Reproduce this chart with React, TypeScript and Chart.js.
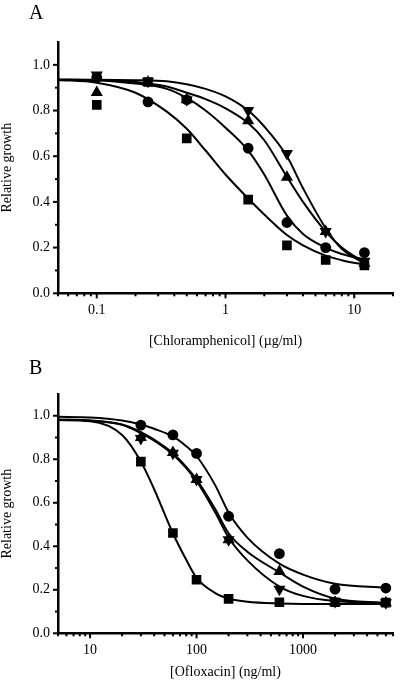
import React, { useEffect, useRef } from "react";
import { Chart, registerables } from "chart.js";

Chart.register(...registerables);

// ---------- Panel A: chloramphenicol ----------
const concA = [0.1, 0.25, 0.5, 1.5, 3, 6, 12];
const squareA = [0.825, 0.925, 0.678, 0.41, 0.21, 0.146, 0.122];
const circleA = [0.945, 0.838, 0.847, 0.635, 0.31, 0.2, 0.178];
const triangleA = [0.879, 0.925, 0.847, 0.755, 0.508, 0.27, 0.131];
const invTriangleA = [0.956, 0.928, 0.847, 0.8, 0.612, 0.27, 0.14];

const curveXA = [0.05, 0.1, 0.2, 0.35, 0.5, 0.7, 1, 1.5, 2, 3, 4, 6, 8, 12];
const squareCurveA = [0.934, 0.922, 0.878, 0.795, 0.72, 0.625, 0.52, 0.415, 0.345, 0.255, 0.21, 0.165, 0.145, 0.125];
const circleCurveA = [0.935, 0.933, 0.918, 0.895, 0.855, 0.8, 0.725, 0.625, 0.52, 0.34, 0.26, 0.2, 0.172, 0.148];
const triangleCurveA = [0.935, 0.934, 0.925, 0.905, 0.878, 0.85, 0.81, 0.745, 0.67, 0.51, 0.4, 0.27, 0.2, 0.135];
const invTriangleCurveA = [0.935, 0.935, 0.933, 0.928, 0.915, 0.895, 0.862, 0.8, 0.73, 0.6, 0.46, 0.285, 0.195, 0.13];

const xTicksA = [0.1, 1, 10];
const xRangeA = [0.05, 20];

// ---------- Panel B: ofloxacin ----------
const concB = [30, 60, 100, 200, 600, 2000, 6000];
const squareB = [0.789, 0.461, 0.246, 0.158, 0.143, 0.143, 0.141];
const circleB = [0.957, 0.912, 0.827, 0.538, 0.366, 0.203, 0.208];
const triangleB = [0.9, 0.831, 0.707, 0.43, 0.284, 0.143, 0.141];
const invTriangleB = [0.895, 0.828, 0.707, 0.43, 0.203, 0.146, 0.141];

const curveXB = [5, 10, 20, 30, 40, 60, 80, 100, 150, 200, 300, 600, 1000, 2000, 6000];
const squareCurveB = [0.98, 0.975, 0.912, 0.79, 0.662, 0.46, 0.338, 0.255, 0.185, 0.16, 0.145, 0.137, 0.135, 0.135, 0.135];
const circleCurveB = [0.995, 0.992, 0.978, 0.96, 0.94, 0.905, 0.86, 0.815, 0.68, 0.555, 0.44, 0.32, 0.27, 0.228, 0.21];
const triangleCurveB = [0.982, 0.978, 0.96, 0.925, 0.89, 0.828, 0.765, 0.708, 0.57, 0.46, 0.375, 0.28, 0.215, 0.16, 0.14];
const invTriangleCurveB = [0.982, 0.978, 0.958, 0.92, 0.885, 0.822, 0.76, 0.7, 0.555, 0.44, 0.335, 0.215, 0.172, 0.148, 0.14];

const xTicksB = [10, 100, 1000];
const xRangeB = [5, 7000];

// ---------- shared ----------
const yTicks = [0, 0.2, 0.4, 0.6, 0.8, 1.0];
const yMinorTicks = [0.1, 0.3, 0.5, 0.7, 0.9];
const yRange = [0, 1.1];

const SERIF = "'Liberation Serif', 'Times New Roman', Times, serif";

type Pt = { x: number; y: number };
const zip = (xs: number[], ys: number[]): Pt[] => xs.map((x, i) => ({ x, y: ys[i] }));

function logMinorTicks(min: number, max: number): number[] {
  const out: number[] = [];
  const k0 = Math.floor(Math.log10(min));
  const k1 = Math.ceil(Math.log10(max));
  for (let k = k0; k <= k1; k++) {
    for (let m = 2; m <= 9; m++) {
      const v = m * Math.pow(10, k);
      if (v >= min * 0.999 && v <= max * 1.001) out.push(v);
    }
  }
  return out;
}

const axisTicksPlugin = {
  id: "axisTicks",
  afterDraw(chart: any, _args: any, opts: any) {
    const { ctx, chartArea } = chart;
    const xs = chart.scales.x;
    const ys = chart.scales.y;
    ctx.save();
    ctx.strokeStyle = "#000";
    ctx.lineWidth = 2;
    const xb = chartArea.bottom;
    const yl = chartArea.left;
    const drawX = (vals: number[], len: number) => {
      vals.forEach((v) => {
        const px = xs.getPixelForValue(v);
        if (px < chartArea.left - 0.5 || px > chartArea.right + 0.5) return;
        ctx.beginPath();
        ctx.moveTo(px, xb);
        ctx.lineTo(px, xb + len);
        ctx.stroke();
      });
    };
    const drawY = (vals: number[], len: number) => {
      vals.forEach((v) => {
        const py = ys.getPixelForValue(v);
        ctx.beginPath();
        ctx.moveTo(yl, py);
        ctx.lineTo(yl - len, py);
        ctx.stroke();
      });
    };
    drawX(opts.xMajor, 5);
    drawX(opts.xMinor, 3);
    drawY(opts.yMajor, 5);
    drawY(opts.yMinor, 3);
    ctx.restore();
  },
};

type PanelSpec = {
  conc: number[];
  square: number[];
  circle: number[];
  triangle: number[];
  invTriangle: number[];
  curveX: number[];
  curves: number[][];
  xTicks: number[];
  xRange: number[];
  xTitle: string;
  height: number;
  padTop: number;
  padRight: number;
  xAxisHeight: number;
  titleBottomPad: number;
};

function makeConfig(p: PanelSpec): any {
  const curveSets = p.curves.map((ys) => ({
    data: zip(p.curveX, ys),
    showLine: true,
    pointRadius: 0,
    borderColor: "#000",
    borderWidth: 2,
    backgroundColor: "#000",
    cubicInterpolationMode: "monotone",
    fill: false,
    order: 2,
  }));
  const marker = (ys: number[], style: string, r: number, rot: number) => ({
    data: zip(p.conc, ys),
    showLine: false,
    pointStyle: style,
    pointRadius: r,
    pointRotation: rot,
    backgroundColor: "#000",
    borderColor: "#000",
    borderWidth: 0,
    order: 1,
  });
  return {
    type: "scatter",
    data: {
      datasets: [
        ...curveSets,
        marker(p.square, "rect", 6.8, 0),
        marker(p.circle, "circle", 5.4, 0),
        marker(p.triangle, "triangle", 7, 0),
        marker(p.invTriangle, "triangle", 7, 180),
      ],
    },
    options: {
      animation: false,
      responsive: false,
      events: [],
      layout: { padding: { top: p.padTop, right: p.padRight, left: 0, bottom: 0 } },
      plugins: {
        legend: { display: false },
        tooltip: { enabled: false },
        axisTicks: {
          xMajor: p.xTicks,
          xMinor: logMinorTicks(p.xRange[0], p.xRange[1]),
          yMajor: yTicks,
          yMinor: yMinorTicks,
        },
      },
      scales: {
        x: {
          type: "logarithmic",
          min: p.xRange[0],
          max: p.xRange[1],
          grid: { display: false, drawTicks: false },
          border: { display: true, color: "#000", width: 2.5 },
          afterBuildTicks: (s: any) => {
            s.ticks = p.xTicks.map((v) => ({ value: v }));
          },
          afterFit: (s: any) => {
            s.height = p.xAxisHeight;
          },
          ticks: {
            color: "#000",
            font: { family: SERIF, size: 14 },
            padding: 9,
            autoSkip: false,
            maxRotation: 0,
            callback: (v: any) => String(v),
          },
          title: {
            display: true,
            text: p.xTitle,
            color: "#000",
            font: { family: SERIF, size: 14 },
            padding: { top: 0, bottom: p.titleBottomPad },
          },
        },
        y: {
          type: "linear",
          min: yRange[0],
          max: yRange[1],
          grid: { display: false, drawTicks: false },
          border: { display: true, color: "#000", width: 2.5 },
          afterBuildTicks: (s: any) => {
            s.ticks = yTicks.map((v) => ({ value: v }));
          },
          afterFit: (s: any) => {
            s.width = 58;
          },
          ticks: {
            color: "#000",
            font: { family: SERIF, size: 14 },
            padding: 8,
            autoSkip: false,
            callback: (v: any) => Number(v).toFixed(1),
          },
          title: {
            display: true,
            text: "Relative growth",
            color: "#000",
            font: { family: SERIF, size: 14, lineHeight: 1.05 },
            padding: { top: 0, bottom: 0 },
          },
        },
      },
    },
    plugins: [axisTicksPlugin],
  };
}

function Panel({ spec, top }: { spec: PanelSpec; top: number }) {
  const ref = useRef<HTMLCanvasElement | null>(null);
  useEffect(() => {
    if (!ref.current) return;
    const chart = new Chart(ref.current, makeConfig(spec));
    return () => chart.destroy();
  }, [spec]);
  return (
    <canvas
      ref={ref}
      width={400}
      height={spec.height}
      style={{ position: "absolute", left: 0, top, width: 400, height: spec.height }}
    />
  );
}

const specA: PanelSpec = {
  conc: concA,
  square: squareA,
  circle: circleA,
  triangle: triangleA,
  invTriangle: invTriangleA,
  curveX: curveXA,
  curves: [squareCurveA, circleCurveA, triangleCurveA, invTriangleCurveA],
  xTicks: xTicksA,
  xRange: xRangeA,
  xTitle: "[Chloramphenicol] (\u00b5g/ml)",
  height: 355,
  padTop: 42,
  padRight: 6,
  xAxisHeight: 61.7,
  titleBottomPad: 5.6,
};

const specB: PanelSpec = {
  conc: concB,
  square: squareB,
  circle: circleB,
  triangle: triangleB,
  invTriangle: invTriangleB,
  curveX: curveXB,
  curves: [squareCurveB, circleCurveB, triangleCurveB, invTriangleCurveB],
  xTicks: xTicksB,
  xRange: xRangeB,
  xTitle: "[Ofloxacin] (ng/ml)",
  height: 341,
  padTop: 54,
  padRight: 2,
  xAxisHeight: 47.7,
  titleBottomPad: 0,
};

const letterStyle: React.CSSProperties = {
  position: "absolute",
  left: 29,
  fontFamily: SERIF,
  fontSize: 20,
  lineHeight: "20px",
  color: "#000",
  margin: 0,
};

export default function App() {
  return (
    <div style={{ position: "absolute", left: 0, top: 0, width: 400, height: 681, background: "#fff", overflow: "hidden" }}>
      <Panel spec={specA} top={0} />
      <Panel spec={specB} top={340} />
      <span style={{ ...letterStyle, top: 1.5 }}>A</span>
      <span style={{ ...letterStyle, top: 356.5 }}>B</span>
    </div>
  );
}
